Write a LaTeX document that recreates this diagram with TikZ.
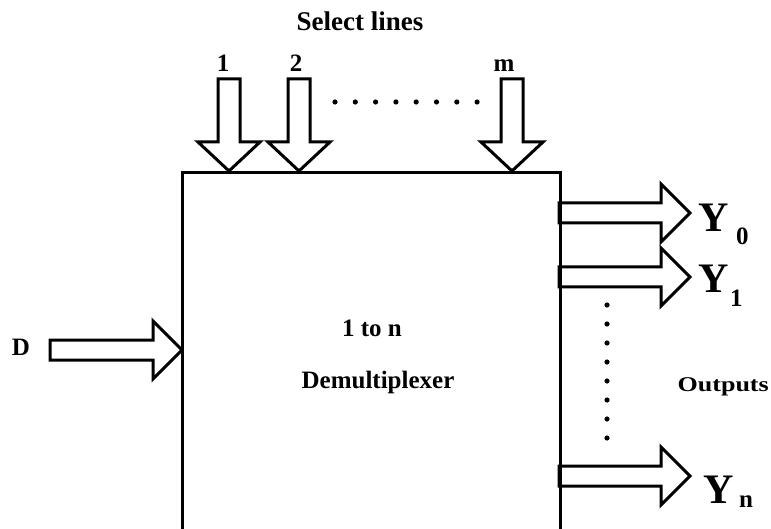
\documentclass[tikz,border=0pt]{standalone}
\usepackage{fontspec}
\setmainfont{Liberation Serif}
\newcommand\harr[3]{\draw[fat] (#1,#3-10) -- (#2-29,#3-10) -- (#2-29,#3-29) -- (#2,#3) -- (#2-29,#3+29) -- (#2-29,#3+10) -- (#1,#3+10) -- cycle;}
\newcommand\varr[3]{\draw[fat] (#1-11,#2) -- (#1+11,#2) -- (#1+11,#3-29) -- (#1+31,#3-29) -- (#1,#3) -- (#1-31,#3-29) -- (#1-11,#3-29) -- cycle;}
\begin{document}
\begin{tikzpicture}[x=1pt,y=-1pt,line join=miter,
  fat/.style={draw,line width=3pt,fill=white},
  lbl/.style={inner sep=0pt,font=\bfseries\fontsize{25}{28}\selectfont},
  ylbl/.style={inner sep=0pt,anchor=base west,font=\bfseries\fontsize{42}{46}\selectfont},
  ysub/.style={inner sep=0pt,anchor=base west,font=\bfseries\fontsize{25}{28}\selectfont},
  dot/.style={fill=black}]
\path[use as bounding box] (0,0) rectangle (771,529);
\clip (0,0) rectangle (771,529);
% select arrows
\varr{229}{79}{171}
\varr{299}{79}{171}
\varr{512}{79}{171}
% output arrows
\harr{559}{690}{213}
\harr{559}{690}{277}
\harr{559}{690}{476}
% data input
\harr{50}{182}{350}
% box
\node[draw,line width=3pt,anchor=north west,minimum width=378pt,minimum height=420pt,inner sep=0pt] (box) at (181,171) {};
% labels
\node[lbl,anchor=base,font=\bfseries\fontsize{27}{30}\selectfont] (sel) at (360,31) {Select lines};
\node[lbl,anchor=base] (s1) at (223,72) {1};
\node[lbl,anchor=base] (s2) at (296,72) {2};
\node[lbl,anchor=base] (sm) at (504,72) {m};
\node[lbl,anchor=base] (ton) at (372,337) {1 to n};
\node[lbl,anchor=base] (demux) at (378,388) {Demultiplexer};
\node[lbl,anchor=base] (d) at (21,355) {D};
\node[lbl,anchor=base east,font=\bfseries\fontsize{21}{24}\selectfont] (outs) at (769,391) {\scalebox{1.24}[1]{Outputs}};
\node[ylbl] (y0) at (698,232) {Y};
\node[ysub] (y0s) at (736,245) {0};
\node[ylbl] (y1) at (698,293) {Y};
\node[ysub] (y1s) at (730,307) {1};
\node[ylbl] (yn) at (703,503) {Y};
\node[ysub] (yns) at (739,507) {n};
% dots
\foreach \i in {0,...,7} \fill[dot] (335+\i*20.3,102) circle (2.6);
\foreach \i in {0,...,7} \fill[dot] (607,305+\i*19) circle (2.6);
\end{tikzpicture}
\end{document}
